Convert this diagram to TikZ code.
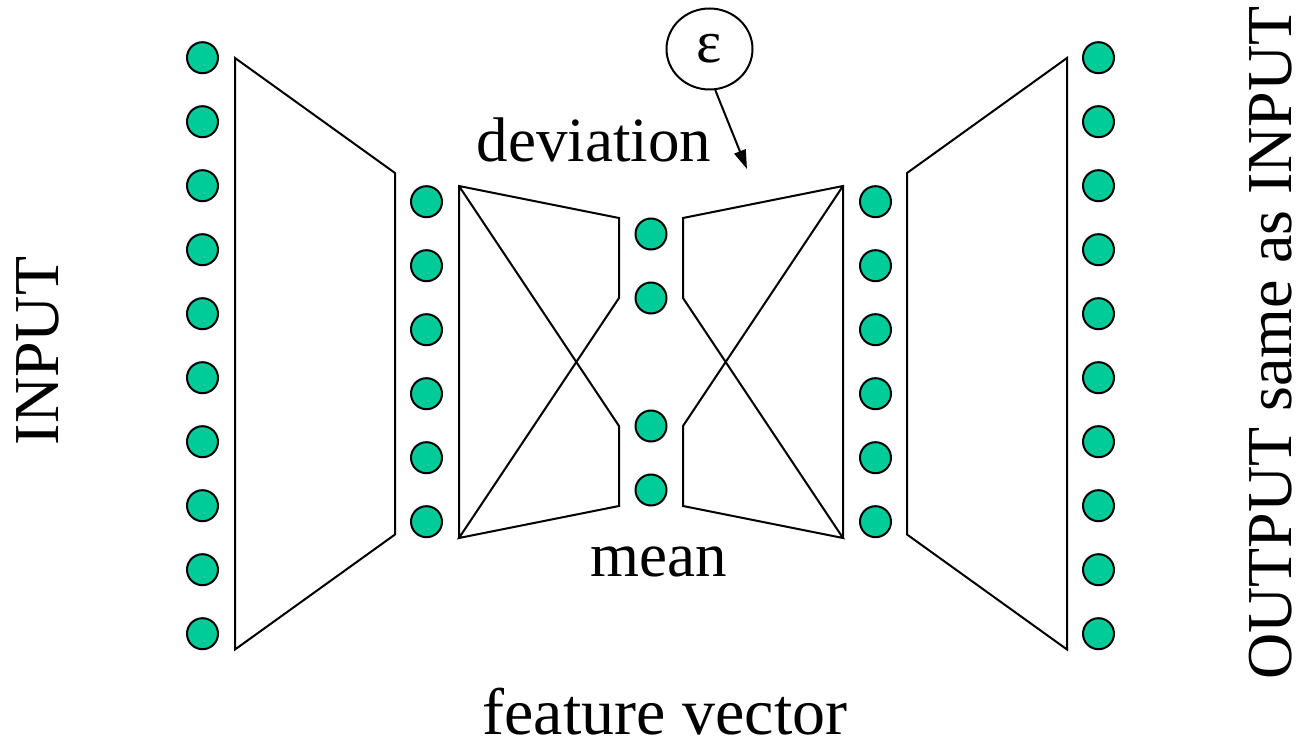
\documentclass[tikz,border=0pt]{standalone}
\usepackage{fontspec}
\setmainfont{Liberation Serif}
\usetikzlibrary{shapes.geometric,arrows.meta}
\definecolor{unitgreen}{RGB}{0,204,153}
\begin{document}
\begin{tikzpicture}[x=1pt,y=-1pt,
  unit/.style={circle,draw=black,line width=2pt,fill=unitgreen,minimum size=31pt,inner sep=0pt},
  layer/.style={line width=2pt,line join=miter},
  lbl/.style={font=\fontsize{63}{70}\selectfont,inner sep=0pt,anchor=base},
  sidelbl/.style={font=\fontsize{64}{70}\selectfont,inner sep=0pt,anchor=base,rotate=90}
]
\useasboundingbox (0,0) rectangle (1299,743);

% outer columns (input and output units)
\foreach \k in {0,...,9}{
  \node[unit] (in\k)  at (202.5, {57.7+64*\k}) {};
  \node[unit] (out\k) at (1098.5,{57.7+64*\k}) {};
}
% hidden columns
\foreach \k in {0,...,5}{
  \node[unit] (hl\k) at (426.5,{201.7+64*\k}) {};
  \node[unit] (hr\k) at (875.5,{201.7+64*\k}) {};
}
% code units: deviation pair and mean pair
\node[unit] (dev1)  at (651,234) {};
\node[unit] (dev2)  at (651,298) {};
\node[unit] (mean1) at (651,426) {};
\node[unit] (mean2) at (651,490) {};

% encoder / decoder outer layers
\draw[layer] (235,58) -- (395,173) -- (395,534.5) -- (235,649.5) -- cycle;
\draw[layer] (1067,58) -- (907,173) -- (907,534.5) -- (1067,649.5) -- cycle;

% crossed layers feeding the code units
\draw[layer] (459,538) -- (459,186) -- (619,218) -- (619,298) -- (459,538)
             -- (619,506) -- (619,426) -- (459,186);
\draw[layer] (843,538) -- (843,186) -- (683,218) -- (683,298) -- (843,538)
             -- (683,506) -- (683,426) -- (843,186);

% noise input
\node[ellipse,draw,line width=2pt,minimum width=86pt,minimum height=81pt,inner sep=0pt,
      font=\fontsize{60}{62}\selectfont] (eps) at (709.5,49) {ε};
\coordinate (epstip) at (747,169);
\draw[line width=2pt,-{Triangle[length=19pt,width=12pt]}] (eps.-82) -- (epstip);

% labels
\node[lbl] (devlbl) at (594,161.7) {deviation};
\node[lbl] (meanlbl) at (659,576.7) {mean};
\node[lbl,font=\fontsize{66}{70}\selectfont] (featlbl) at (665,734) {feature vector};
\node[sidelbl] (inlbl) at (58,351) {INPUT};
\node[sidelbl] (outlbl) at (1291,343) {OUTPUT same as INPUT};
\end{tikzpicture}
\end{document}
